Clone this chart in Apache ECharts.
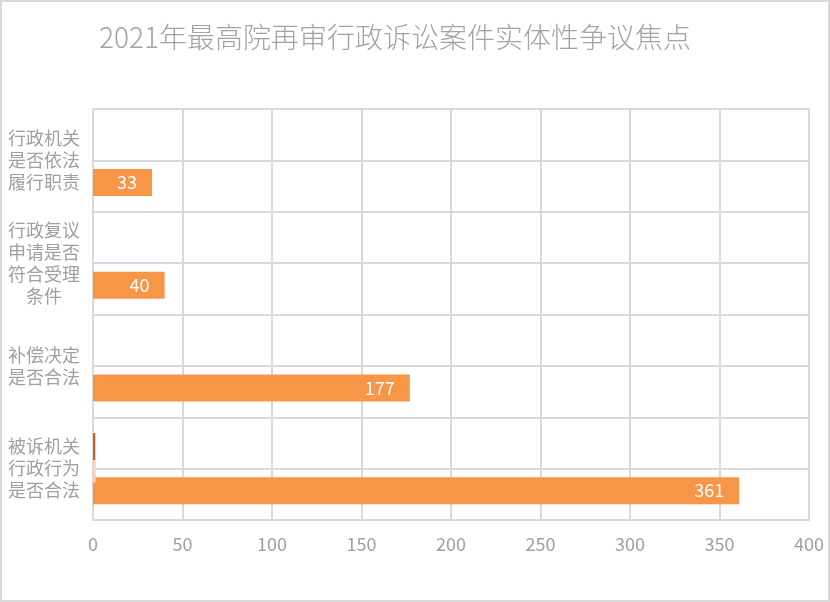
<!DOCTYPE html>
<html>
<head>
<meta charset="utf-8">
<script src="https://cdn.jsdelivr.net/npm/echarts@6/dist/echarts.min.js"></script>
<style>
html,body{margin:0;padding:0;background:#fff;}
#wrap{position:relative;width:830px;height:602px;}
#chart{position:absolute;left:0;top:0;width:830px;height:602px;}
#frame{position:absolute;left:0;top:0;width:830px;height:602px;box-sizing:border-box;border:2px solid #d9d9d9;pointer-events:none;}
</style>
</head>
<body>
<div id="wrap"><div id="chart"></div><div id="frame"></div></div>
<script>
// categories listed bottom-to-top (ECharts category y axis order)
const categories = ['被诉机关\n行政行为\n是否合法', '补偿决定\n是否合法', '行政复议\n申请是否\n符合受理\n条件', '行政机关\n是否依法\n履行职责'];
const mainValues = [361, 177, 40, 33];
const brownValues = [1.3, 0, 0, 0];
const pinkValues = [1.5, 0, 0, 0];
const xTicks = [0, 50, 100, 150, 200, 250, 300, 350, 400];
const titleText = '2021年最高院再审行政诉讼案件实体性争议焦点';

const gray = '#a0a0a0';
const gridColor = '#d9d9d9';
const font = '"Noto Sans CJK SC", "Noto Sans", sans-serif';

const chart = echarts.init(document.getElementById('chart'), null, {renderer: 'canvas'});
chart.setOption({
  backgroundColor: '#fff',
  animation: false,
  title: {
    text: titleText, left: 94, top: 18,
    textStyle: {fontFamily: font, fontSize: 28, fontWeight: 300, color: '#a3a3a3'}
  },
  grid: [
    {left: 93, right: 21, top: 109, bottom: 82},
    {left: 93, right: 21, top: 112, bottom: 79}
  ],
  xAxis: [
    {
      type: 'value', gridIndex: 0, min: xTicks[0], max: xTicks[xTicks.length - 1], interval: 50,
      axisLine: {show: true, lineStyle: {color: gridColor, width: 2}},
      axisTick: {show: false},
      axisLabel: {color: gray, fontSize: 18, fontFamily: font, margin: 15},
      splitLine: {show: true, lineStyle: {color: gridColor, width: 2}}
    },
    {
      type: 'value', gridIndex: 1, min: xTicks[0], max: xTicks[xTicks.length - 1], interval: 50, show: false,
      splitLine: {show: false}
    }
  ],
  yAxis: [
    {
      type: 'category', gridIndex: 0, data: categories,
      axisLine: {show: false}, axisTick: {show: false},
      axisLabel: {color: gray, fontSize: 18, fontFamily: font, lineHeight: 22, align: 'center', margin: 49},
      splitLine: {show: true, lineStyle: {color: gridColor, width: 2}}
    },
    {
      type: 'category', gridIndex: 0, data: ['', '', '', '', '', '', '', ''],
      axisLine: {show: false}, axisTick: {show: false}, axisLabel: {show: false},
      splitLine: {show: true, lineStyle: {color: gridColor, width: 2}}
    },
    {
      type: 'category', gridIndex: 1, data: categories, show: false
    }
  ],
  series: [
    {
      name: 'brown', type: 'bar', xAxisIndex: 0, yAxisIndex: 0, data: brownValues,
      barWidth: 27, barGap: '63%',
      itemStyle: {color: '#b9642a'}
    },
    {
      name: 'orange', type: 'bar', xAxisIndex: 0, yAxisIndex: 0, data: mainValues,
      barWidth: 27, barGap: '63%',
      itemStyle: {color: '#f79646'},
      label: {show: true, position: 'insideRight', distance: 15, color: '#fff', fontSize: 18, fontFamily: font}
    },
    {
      name: 'pink', type: 'bar', xAxisIndex: 1, yAxisIndex: 2, data: pinkValues,
      barWidth: 22, z: 5,
      itemStyle: {color: '#fbcfb0'}
    }
  ]
});
</script>
</body>
</html>
